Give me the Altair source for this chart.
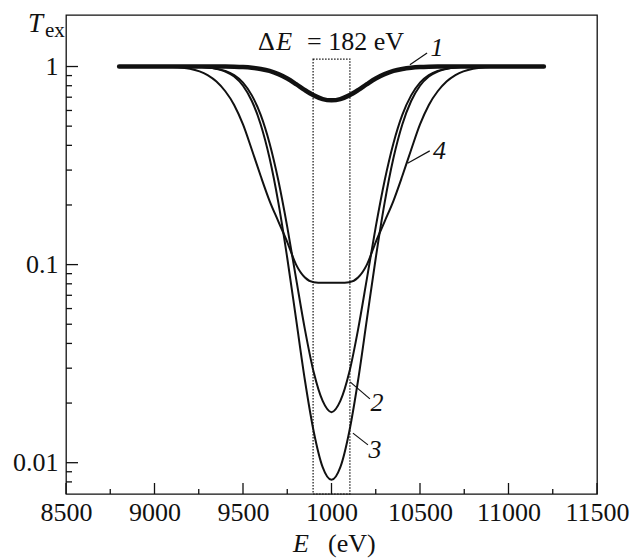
import altair as alt
import pandas as pd

# ---------------- data ----------------
energy = [8800, 9000, 9100, 9200, 9300, 9350, 9400, 9450, 9500, 9550, 9600, 9650,
          9700, 9750, 9800, 9850, 9900, 9950, 10000, 10050, 10100, 10150, 10200,
          10250, 10300, 10350, 10400, 10450, 10500, 10550, 10600, 10650, 10700,
          10800, 10900, 11000, 11200]

curve_1 = [1.0, 1.0, 1.0, 1.0, 1.0, 1.0, 1.0, 0.998, 0.994, 0.986, 0.972, 0.95,
           0.915, 0.87, 0.815, 0.76, 0.715, 0.685, 0.675, 0.685, 0.715, 0.76, 0.815,
           0.87, 0.915, 0.95, 0.972, 0.986, 0.994, 0.998, 1.0, 1.0, 1.0,
           1.0, 1.0, 1.0, 1.0]

curve_2 = [1.0, 1.0, 1.0, 0.999, 0.99, 0.976, 0.95, 0.905, 0.83, 0.715, 0.57, 0.41,
           0.265, 0.155, 0.085, 0.047, 0.0285, 0.0205, 0.018, 0.0205, 0.0285, 0.047, 0.085,
           0.155, 0.265, 0.41, 0.57, 0.715, 0.83, 0.905, 0.95, 0.976, 0.99,
           0.999, 1.0, 1.0, 1.0]

curve_3 = [1.0, 1.0, 1.0, 0.999, 0.988, 0.972, 0.944, 0.89, 0.80, 0.67, 0.51, 0.345,
           0.205, 0.108, 0.053, 0.026, 0.0143, 0.0095, 0.0082, 0.0095, 0.0143, 0.026, 0.053,
           0.108, 0.205, 0.345, 0.51, 0.67, 0.80, 0.89, 0.944, 0.972, 0.988,
           0.999, 1.0, 1.0, 1.0]

curve_4 = [1.0, 1.0, 0.995, 0.975, 0.905, 0.84, 0.75, 0.64, 0.51, 0.38, 0.28, 0.21,
           0.165, 0.13, 0.10, 0.086, 0.0815, 0.081, 0.081, 0.081, 0.0815, 0.086, 0.10,
           0.13, 0.165, 0.21, 0.28, 0.38, 0.51, 0.64, 0.75, 0.84, 0.905,
           0.975, 0.995, 1.0, 1.0]

x_major = [8500, 9000, 9500, 10000, 10500, 11000, 11500]
x_minor = [8750, 9250, 9750, 10250, 10750, 11250]
y_major = [0.01, 0.1, 1.0]
y_minor = [0.008, 0.009, 0.02, 0.03, 0.04, 0.05, 0.06, 0.07, 0.08, 0.09,
           0.2, 0.3, 0.4, 0.5, 0.6, 0.7, 0.8, 0.9]

window_e = [9896, 10104]      # dotted window, eV
window_top = 1.09

# ---------------- layout ----------------
W, H = 531, 479
YMIN, YMAX = 0.00695, 1.82
FONT = "Liberation Serif"
INK = "#111111"

thin_df = pd.DataFrame(
    [{"E": e, "T": t, "curve": name}
     for name, vals in (("2", curve_2), ("3", curve_3), ("4", curve_4))
     for e, t in zip(energy, vals)]
)
thick_df = pd.DataFrame({"E": energy, "T": curve_1})

xs = alt.Scale(domain=[8500, 11500], nice=False, zero=False)
ys = alt.Scale(type="log", domain=[YMIN, YMAX], nice=False)

x_axis = alt.Axis(values=x_major, ticks=False, tickSize=0, domain=False, grid=False,
                  labelFont=FONT, labelFontSize=26, labelColor=INK, labelPadding=5,
                  labelFlush=False, labelOverlap=False, labelBound=False, title=None,
                  labelExpr="datum.value == 10000 ? '1000' : format(datum.value, 'd')")
y_axis = alt.Axis(values=y_major, ticks=False, tickSize=0, domain=False, grid=False,
                  labelFont=FONT, labelFontSize=26, labelColor=INK, labelPadding=8,
                  labelFlush=False, labelOverlap=False, labelBound=False, title=None,
                  labelExpr="datum.value > 0.5 ? '1' : (datum.value > 0.05 ? '0.1' : '0.01')")


def X(field):
    return alt.X(field, scale=xs, axis=x_axis)


def Y(field):
    return alt.Y(field, scale=ys, axis=y_axis)


def XD(v):
    return alt.X(datum=v, type="quantitative", scale=xs, axis=x_axis)


def YD(v):
    return alt.Y(datum=v, type="quantitative", scale=ys, axis=y_axis)


def X2D(v):
    return alt.X2(datum=v)


def Y2D(v):
    return alt.Y2(datum=v)


thin = alt.Chart(thin_df).mark_line(color=INK, strokeWidth=2, interpolate="monotone").encode(
    x=X("E:Q"), y=Y("T:Q"), detail="curve:N",
)
thick = alt.Chart(thick_df).mark_line(color=INK, strokeWidth=4.5, strokeCap="round",
                                      interpolate="monotone").encode(
    x=X("E:Q"), y=Y("T:Q"),
)


# inward ticks
def xticks(vals, length):
    return alt.Chart(pd.DataFrame({"E": vals})).mark_rule(color=INK, strokeWidth=1.3).encode(
        x=X("E:Q"), y=alt.value(H), y2=alt.value(H - length))


def yticks(vals, length):
    return alt.Chart(pd.DataFrame({"T": vals})).mark_rule(color=INK, strokeWidth=1.3).encode(
        y=Y("T:Q"), x=alt.value(0), x2=alt.value(length))


tick_layers = [xticks(x_major, 11), xticks(x_minor, 5), yticks(y_major, 12), yticks(y_minor, 6)]

one = alt.Chart(pd.DataFrame({"a": [0]}))

# dotted window
box = one.mark_rect(fillOpacity=0, stroke=INK, strokeWidth=1.2, strokeDash=[1.5, 1.5]).encode(
    x=XD(window_e[0]), x2=X2D(window_e[1]), y=YD(window_top), y2=Y2D(YMIN))


def txt(s, e, t, size=26, italic=False, align="left", baseline="alphabetic"):
    return one.mark_text(text=s, font=FONT, fontSize=size, color=INK,
                         fontStyle="italic" if italic else "normal",
                         align=align, baseline=baseline).encode(x=XD(e), y=YD(t))


def ptxt(s, px, py, size=26, italic=False):
    return one.mark_text(text=s, font=FONT, fontSize=size, color=INK,
                         fontStyle="italic" if italic else "normal",
                         align="left", baseline="alphabetic").encode(
        x=alt.value(px), y=alt.value(py))


def leader(e1, t1, e2, t2):
    return one.mark_rule(color=INK, strokeWidth=1.2).encode(
        x=XD(e1), y=YD(t1), x2=X2D(e2), y2=Y2D(t2))


annotations = [
    txt("\u0394", 9585, 1.214),
    txt("E", 9688, 1.214, italic=True),
    txt("= 182 eV", 9862, 1.214),
    leader(10443, 1.02, 10540, 1.17), txt("1", 10596, 1.243, italic=True, align="center", baseline="middle"),
    leader(10105, 0.0256, 10217, 0.021), txt("2", 10257, 0.0200, italic=True, align="center", baseline="middle"),
    leader(10121, 0.0141, 10206, 0.0123), txt("3", 10246, 0.0116, italic=True, align="center", baseline="middle"),
    leader(10430, 0.325, 10555, 0.375), txt("4", 10610, 0.375, italic=True, align="center", baseline="middle"),
    ptxt("T", -38, 17, size=27, italic=True),
    ptxt("ex", -21, 22, size=21),
    ptxt("E", 227, 537, size=26, italic=True),
    ptxt("(eV)", 262, 537, size=26),
]

chart = alt.layer(thin, *tick_layers, box, thick, *annotations).properties(
    width=W, height=H,
    autosize=alt.AutoSizeParams(type="none"),
    padding={"left": 58, "top": 7, "right": 37, "bottom": 66},
    background="white",
).configure_view(stroke=INK, strokeWidth=1.3)

chart.save("out.html", embed_options={"renderer": "svg", "actions": False})
